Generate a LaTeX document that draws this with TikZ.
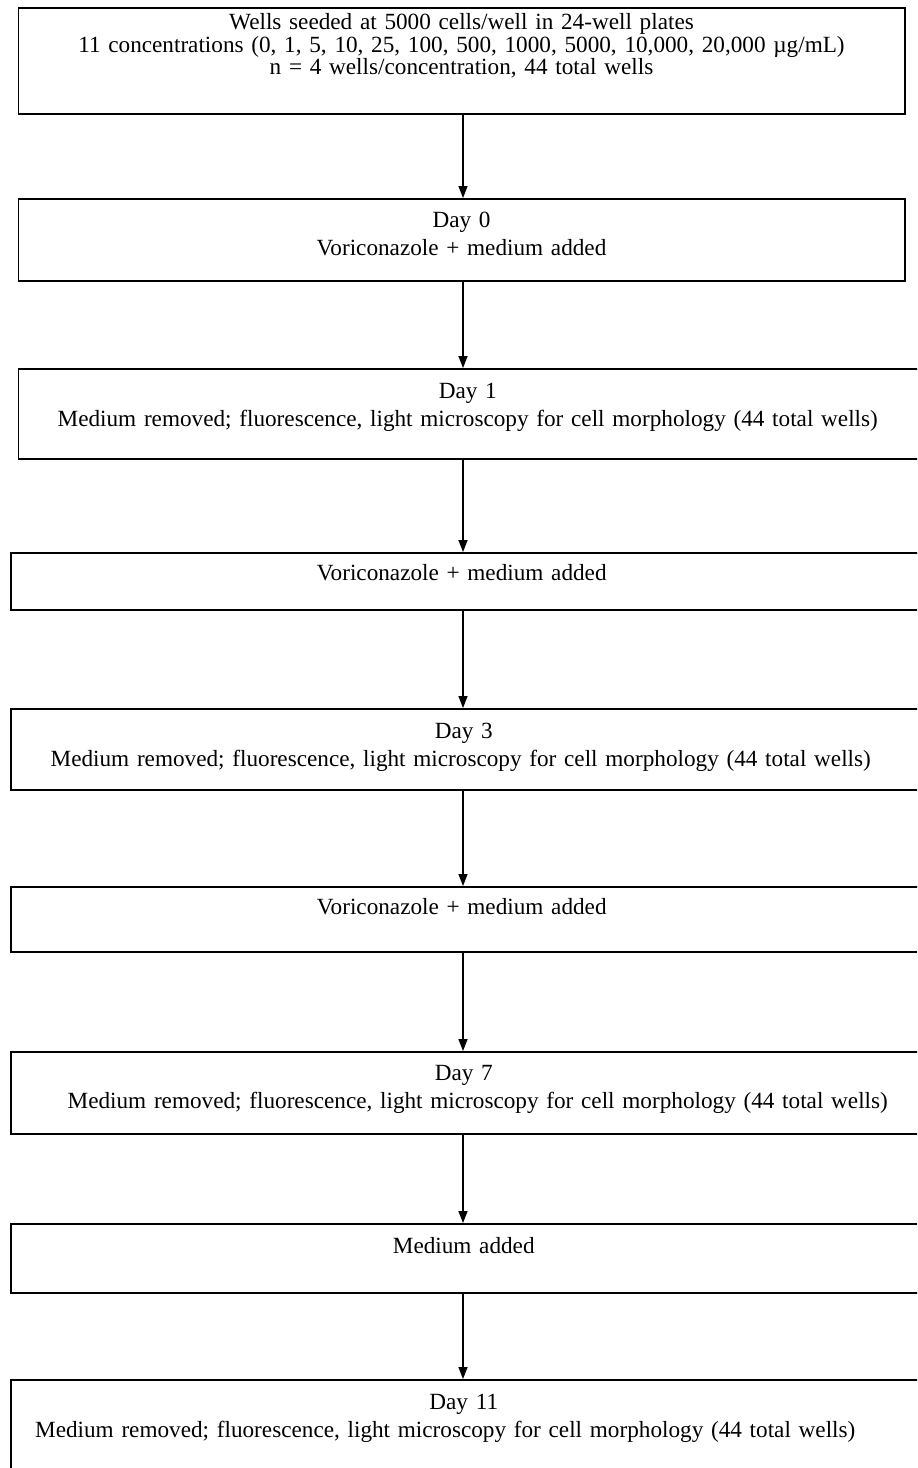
\documentclass[tikz,border=0pt]{standalone}
\usepackage{fontspec}
\setmainfont{Liberation Serif}
\usetikzlibrary{arrows.meta}
\newcommand{\padr}[1]{\hspace*{#1}\mbox{}}
\newcommand{\padl}[1]{\mbox{}\hspace*{#1}}

\begin{document}
\begin{tikzpicture}[x=0.5pt, y=-0.5pt,
  every node/.style={font=\fontsize{11.6}{13.75}\selectfont},
  stepbox/.style={draw, line width=0.75pt, anchor=north west, inner sep=0pt, align=center},
  wide/.style={text width=460pt},
  flow/.style={line width=0.75pt, -{Triangle[length=6pt, width=4.5pt]}}]
  \useasboundingbox (0,0) rectangle (917,1468);
  \clip (0,0) rectangle (917,1468);
  \coordinate (ax) at (463,0);
  % seeding
  \node[stepbox, text width=443.25pt, text height=11pt, text depth=42pt] (seed) at (17.5,7)
    {Wells seeded at 5000 cells/well in 24-well plates\\[-2.5pt]
     11 concentrations (0, 1, 5, 10, 25, 100, 500, 1000, 5000, 10,000, 20,000 µg/mL)\\[-2.5pt]
     n = 4 wells/concentration, 44 total wells};
  \node[stepbox, text width=443.25pt, text height=14.5pt, text depth=26.5pt] (day0) at (17.5,198)
    {Day 0\\Voriconazole + medium added};
  \node[stepbox, text width=456.25pt, text height=15pt, text depth=30pt] (day1) at (17.5,368)
    {Day 1\padr{6.75pt}\\Medium removed; fluorescence, light microscopy for cell morphology (44 total wells)\padr{6.75pt}};
  % later days
  \node[stepbox, wide, text height=14pt, text depth=14.5pt] (add1) at (10,552)
    {Voriconazole + medium added\padr{9pt}};
  \node[stepbox, wide, text height=15pt, text depth=25.5pt] (day3) at (10,708)
    {Day 3\padr{7pt}\\Medium removed; fluorescence, light microscopy for cell morphology (44 total wells)\padr{10pt}};
  \node[stepbox, wide, text height=14pt, text depth=18.5pt] (add2) at (10,886)
    {Voriconazole + medium added\padr{9pt}};
  \node[stepbox, wide, text height=14.5pt, text depth=26.5pt] (day7) at (10,1051)
    {Day 7\padr{7pt}\\\padl{7pt}Medium removed; fluorescence, light microscopy for cell morphology (44 total wells)};
  \node[stepbox, wide, text height=15pt, text depth=19.5pt] (add3) at (10,1223)
    {Medium added\padr{7pt}};
  \node[stepbox, wide, text height=15pt, text depth=30.5pt] (day11) at (10,1379)
    {Day 11\padr{7pt}\\Medium removed; fluorescence, light microscopy for cell morphology (44 total wells)\padr{25.5pt}};
  % arrows
  \foreach \a/\b in {seed/day0, day0/day1, day1/add1, add1/day3, day3/add2, add2/day7, day7/add3, add3/day11}
    \draw[flow] (\a.south -| ax) -- (\b.north -| ax);
\end{tikzpicture}
\end{document}
